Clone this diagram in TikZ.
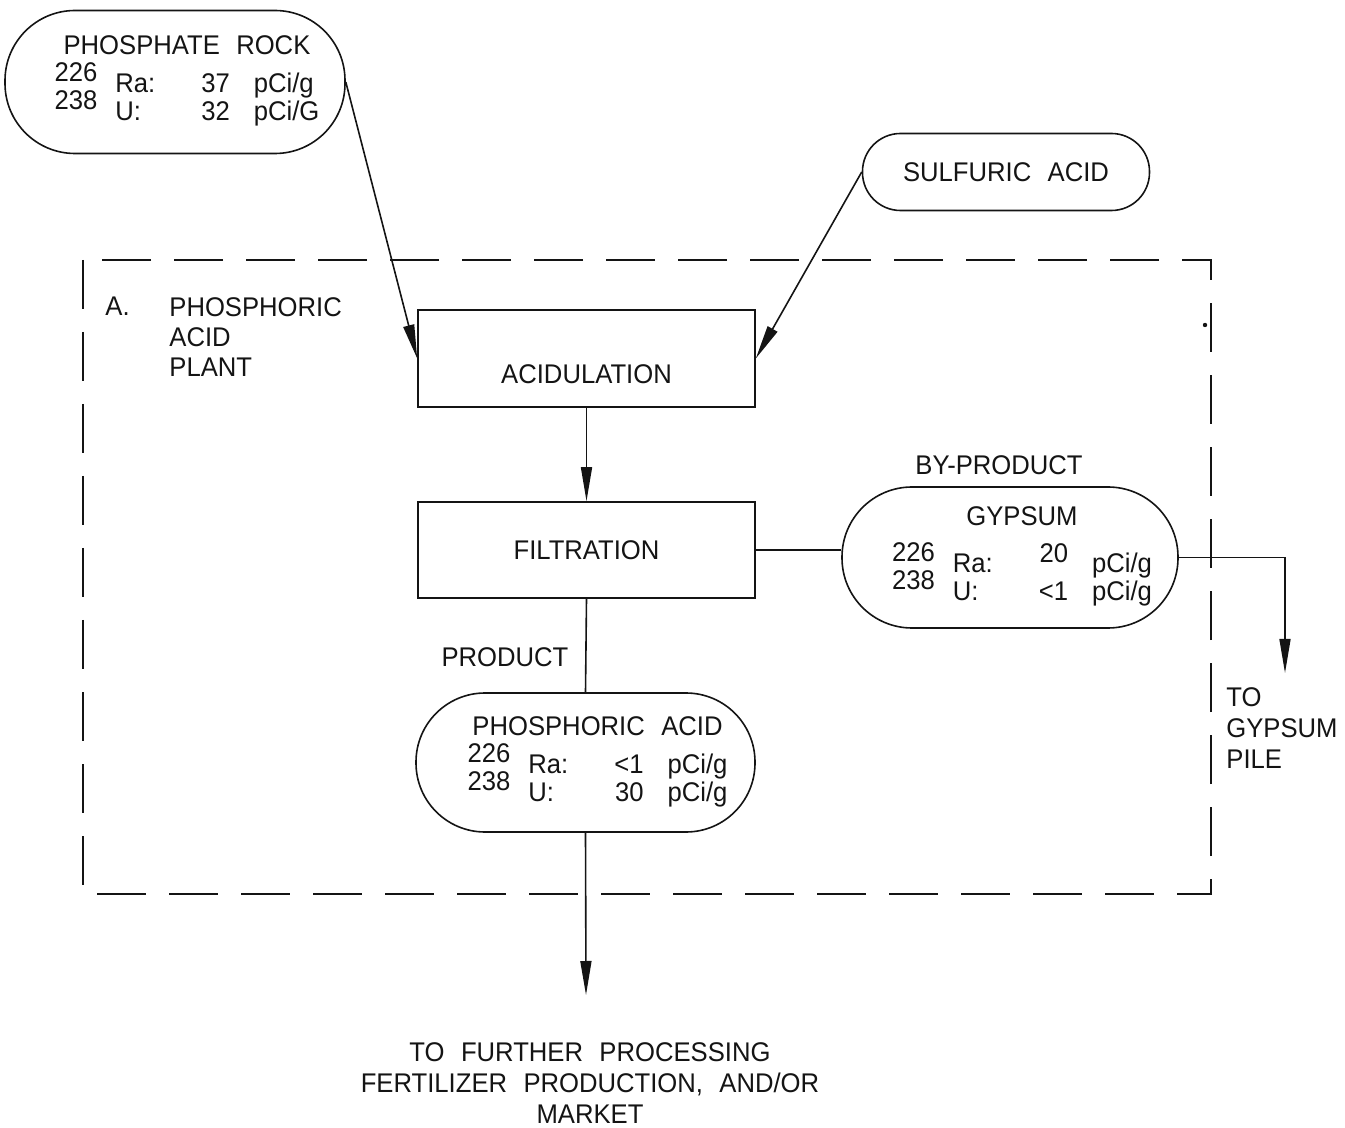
\documentclass[tikz,border=0pt]{standalone}
\usepackage{fontspec}
\setmainfont{Liberation Sans}[FakeStretch=0.95, WordSpace=2.3]
\usepackage{tikz}
\usetikzlibrary{positioning,arrows.meta}
\definecolor{ink}{HTML}{141414}
\newcommand{\mass}[1]{\raisebox{5.5pt}[0pt][0pt]{#1}}
\newcommand{\assay}[5]{%
  {\renewcommand{\arraystretch}{0.93}%
  \begin{tabular}{@{\hspace{12pt}}l@{\hspace{9pt}}l@{\hspace{23pt}}r@{\hspace{12pt}}l@{}}
    \multicolumn{4}{@{\hspace{12pt}}c@{}}{#1}\\[5pt]
    \mass{226} & Ra: & #2 & #3\\
    \mass{238} & U:  & #4 & #5
  \end{tabular}}}
\tikzset{
  >={Triangle[length=17pt,width=5.5pt]},
  every node/.style={font=\fontsize{13.5}{15}\selectfont, text=ink},
  % --- nodes
  stream/.style = {rectangle, rounded corners=#1, draw=ink, line width=0.8pt,
                   inner sep=0pt, align=center},
  unit/.style   = {rectangle, draw=ink, line width=0.8pt, inner sep=0pt,
                   minimum width=168.5pt, minimum height=48pt},
  lbl/.style    = {inner sep=0pt, align=left},
  % --- edges
  e/.style      = {->, draw=ink, line width=0.8pt},
  eline/.style  = {draw=ink, line width=0.8pt},
  plant/.style  = {draw=ink, line width=0.9pt, dash pattern=on 24.5pt off 11.5pt},
}
\begin{document}
\begin{tikzpicture}[x=0.5pt,y=-0.5pt]
  \useasboundingbox (0,0) rectangle (1345,1128);

  % plant boundary
  \draw[plant] (83,260) rectangle (1211,894);
  \fill[ink] (1205,325) circle (1.1pt);
  \node[lbl, anchor=north west] (tagA) at (105,297) {A.};
  \node[lbl, anchor=north west] (plantlbl) at (169,297) {PHOSPHORIC\\ACID\\PLANT};

  % feeds
  \node[stream=35pt, minimum width=170pt, minimum height=71.5pt] (rock) at (175,82)
    {\assay{PHOSPHATE ROCK}{37}{pCi/g}{32}{pCi/G}};
  \node[stream=19pt, minimum width=143.5pt, minimum height=38.5pt] (sulf) at (1006,172)
    {SULFURIC ACID};

  % process steps
  \node[unit, minimum height=48.5pt, text height=25pt, text depth=0pt] (acid) at (586.5,358.5)
    {ACIDULATION};
  \node[unit] (filt) at (586.5,550) {FILTRATION};

  % outputs
  \node[stream=35pt, minimum width=168pt, minimum height=70.5pt] (gyp) at (1010,557.5)
    {\assay{GYPSUM}{\raisebox{5pt}{20}}{pCi/g}{<1}{pCi/g}};
  \node[stream=34.5pt, minimum width=169.5pt, minimum height=69.5pt] (phos) at (585.5,762.5)
    {\assay{PHOSPHORIC ACID}{<1}{pCi/g}{30}{pCi/g}};
  \node[lbl, anchor=base] (byprod) at (999,475) {BY-PRODUCT};
  \node[lbl, anchor=base] (prod) at (505,667) {PRODUCT};

  \coordinate (pile) at (1285,673);
  \coordinate (mkt) at (586,995);
  \node[lbl, anchor=north west, font=\fontsize{13.5}{15.5}\selectfont] (pilelbl)
    at (1226,687) {TO\\GYPSUM\\PILE};
  \node[lbl, align=center, anchor=north, font=\fontsize{13.5}{15.5}\selectfont] (mktlbl)
    at (590,1042) {TO FURTHER PROCESSING\\FERTILIZER PRODUCTION, AND/OR\\MARKET};

  % flows
  \draw[e] (rock.east) -- (acid.west);
  \draw[e] (sulf.west) -- (acid.east);
  \draw[e] (acid.south) -- (filt.north);
  \draw[eline] (filt.east) -- (filt.east -| gyp.west);
  \draw[e] (gyp.east) -| (pile);
  \draw[eline] (filt.south) -- (phos.north);
  \draw[e] (phos.south) -- (mkt);
\end{tikzpicture}
\end{document}
